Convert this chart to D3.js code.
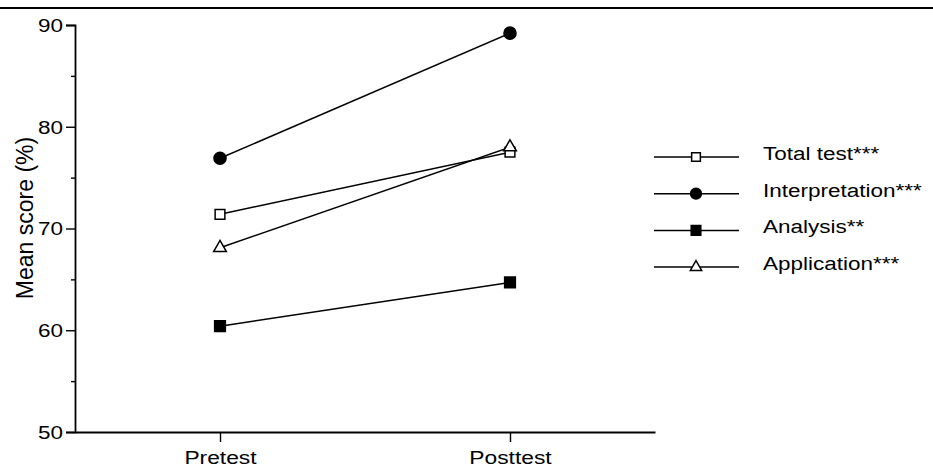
<!DOCTYPE html>
<html>
<head>
<meta charset="utf-8">
<script src="https://cdn.jsdelivr.net/npm/d3@7/dist/d3.min.js"></script>
<style>
  body { margin: 0; background: #fff; }
  svg { font-family: "Liberation Sans", Arial, sans-serif; }
</style>
</head>
<body>
<svg id="chart"></svg>
<script>
// data
var phases = ["Pretest", "Posttest"];
var seriesNames = ["Total test***", "Interpretation***", "Analysis**", "Application***"];
var totalTest = [71.4, 77.5];
var interpretation = [76.9, 89.2];
var analysis = [60.4, 64.7];
var application = [68.1, 78.0];
var majorTicks = [50, 60, 70, 80, 90];
var minorTicks = [55, 65, 75, 85];

// the scanned type is wider than it is tall, so text gets stretched sideways
var stretch = 1.25;

var symbols = [
    {shape: d3.symbolSquare, fill: "#fff", size: 95},
    {shape: d3.symbolCircle, fill: "#000", size: 115},
    {shape: d3.symbolSquare, fill: "#000", size: 115},
    {shape: d3.symbolTriangle, fill: "#fff", size: 70}
];

var series = [totalTest, interpretation, analysis, application].map(function(vals, i)
{
    return {name: seriesNames[i], values: vals, sym: symbols[i]};
});

var screen = {width: 933, height: 469};
var margins = {top: 25, left: 75};
var plot = {width: 580, height: 407};

var svg = d3.select("#chart")
    .attr("width", screen.width)
    .attr("height", screen.height);

// scanned page edge at the top
svg.append("line")
    .attr("x1", 0).attr("x2", screen.width)
    .attr("y1", 8).attr("y2", 8)
    .attr("stroke", "#000")
    .attr("stroke-width", 1.8);

var xScale = d3.scalePoint()
    .domain(phases)
    .range([0, plot.width])
    .padding(0.5);

var yScale = d3.scaleLinear()
    .domain([50, 90])
    .range([plot.height, 0]);

var g = svg.append("g")
    .attr("transform", "translate(" + margins.left + "," + margins.top + ")");

// y axis
var yAxis = g.append("g")
    .call(d3.axisLeft(yScale).tickValues(majorTicks).tickSize(9).tickPadding(3));
g.append("g")
    .call(d3.axisLeft(yScale).tickValues(minorTicks).tickSize(4).tickFormat(""))
    .select(".domain").remove();

yAxis.selectAll(".tick text")
    .attr("x", 0)
    .attr("dy", "0.36em")
    .attr("transform", "translate(-12,0) scale(" + stretch + ",1)")
    .style("font-size", "18px");

// x axis
var xAxis = g.append("g")
    .attr("transform", "translate(0," + plot.height + ")")
    .call(d3.axisBottom(xScale).tickSize(10).tickSizeOuter(0));

xAxis.selectAll(".tick text")
    .attr("y", 0)
    .attr("dy", 0)
    .attr("transform", "translate(0,32) scale(1.2,1)")
    .style("font-size", "19px");

g.selectAll(".domain").attr("stroke-width", 1.8);
g.selectAll(".tick line").attr("stroke-width", 1.4);
g.selectAll(".tick text")
    .attr("fill", "#000")
    .style("font-family", "'Liberation Sans', Arial, sans-serif");

svg.append("text")
    .attr("transform", "translate(33," + (margins.top + 193) + ") rotate(-90)")
    .attr("text-anchor", "middle")
    .style("font-size", "23px")
    .text("Mean score (%)");

// lines
var line = d3.line()
    .x(function(d, i) { return xScale(phases[i]); })
    .y(function(d) { return yScale(d); });

g.selectAll(".series")
    .data(series)
    .enter()
    .append("path")
    .attr("d", function(s) { return line(s.values); })
    .attr("fill", "none")
    .attr("stroke", "#000")
    .attr("stroke-width", 1.5);

// markers
series.forEach(function(s)
{
    g.selectAll(null)
        .data(s.values)
        .enter()
        .append("path")
        .attr("transform", function(d, i)
        {
            return "translate(" + xScale(phases[i]) + "," + yScale(d) + ")";
        })
        .attr("d", d3.symbol().type(s.sym.shape).size(s.sym.size))
        .attr("fill", s.sym.fill)
        .attr("stroke", "#000")
        .attr("stroke-width", 1.5);
});

// legend
var legend = svg.append("g")
    .attr("transform", "translate(654,157)");

var rows = legend.selectAll(".row")
    .data(series)
    .enter()
    .append("g")
    .attr("transform", function(d, i) { return "translate(0," + (i * 36.7) + ")"; });

rows.append("line")
    .attr("x1", 0).attr("x2", 85)
    .attr("stroke", "#000")
    .attr("stroke-width", 1.5);

rows.append("path")
    .attr("transform", "translate(42,0)")
    .attr("d", function(s) { return d3.symbol().type(s.sym.shape).size(s.sym.size * 0.8)(); })
    .attr("fill", function(s) { return s.sym.fill; })
    .attr("stroke", "#000")
    .attr("stroke-width", 1.5);

rows.append("text")
    .attr("transform", "translate(109,3) scale(" + stretch + ",1)")
    .style("font-size", "18px")
    .text(function(s) { return s.name; });
</script>
</body>
</html>
